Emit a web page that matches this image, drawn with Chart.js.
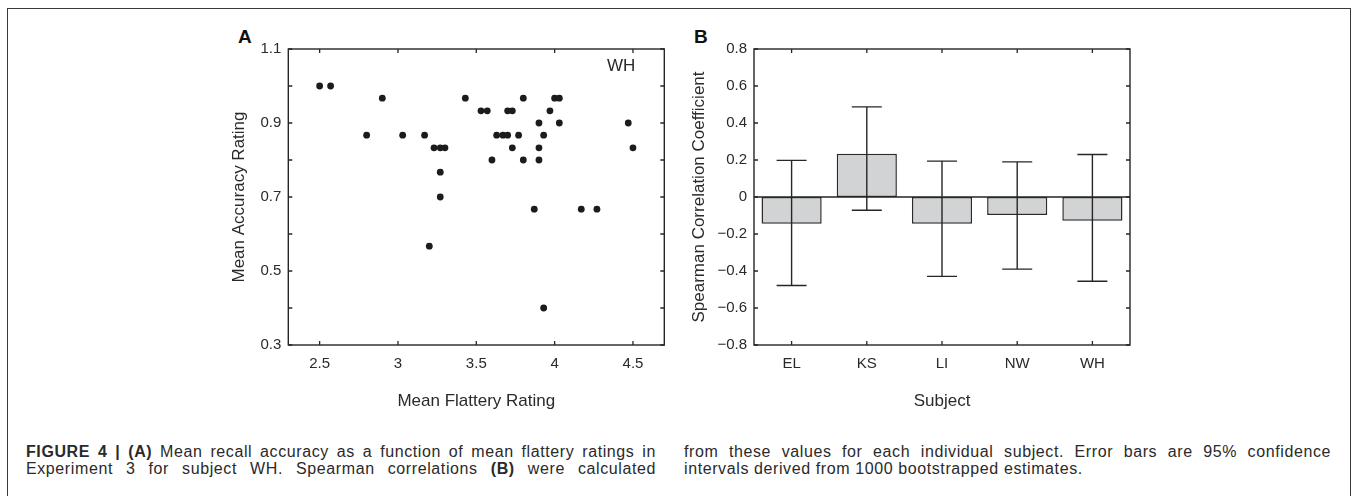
<!DOCTYPE html>
<html>
<head>
<meta charset="utf-8">
<script src="https://cdn.jsdelivr.net/npm/chart.js@4/dist/chart.umd.min.js"></script>
<style>
  html, body { margin: 0; padding: 0; background: #fff; }
  body { width: 1357px; height: 496px; position: relative; overflow: hidden; font-family: 'Liberation Sans', Arial, sans-serif; color: #2a2a2a; }
  .frame { position: absolute; left: 7px; top: 8px; width: 1342px; height: 560px; border: 1px solid #3a3a3a; }
  canvas { position: absolute; }
  .panel { position: absolute; font-weight: bold; font-size: 19px; color: #111; }
  .wh { position: absolute; font-size: 17px; color: #2a2a2a; }
  .cap { position: absolute; top: 444px; font-size: 16px; line-height: 16.7px; letter-spacing: 0.6px; text-align: justify; color: #2a2a2a; }
  .cap.left { left: 26px; width: 630px; text-align-last: justify; }
  .cap.right { left: 684px; width: 647px; }
</style>
</head>
<body>
<div class="frame"></div>
<div class="panel" style="left:238px; top:26px;">A</div>
<div class="panel" style="left:694px; top:26px;">B</div>
<canvas id="scatterA" width="490" height="400" style="left:200px; top:20px;"></canvas>
<canvas id="barsB" width="480" height="400" style="left:680px; top:20px;"></canvas>
<div class="wh" style="left:607px; top:56px;">WH</div>
<div class="cap left"><b>FIGURE 4 | (A)</b> Mean recall accuracy as a function of mean flattery ratings in Experiment 3 for subject WH. Spearman correlations <b>(B)</b> were calculated</div>
<div class="cap right">from these values for each individual subject. Error bars are 95% confidence intervals derived from 1000 bootstrapped estimates.</div>
<script>
// panel A: one point per item, subject WH
var flattery = [2.50, 2.57, 2.90, 2.80, 3.03, 3.17, 3.23, 3.27, 3.30, 3.27, 3.27, 3.20,
  3.43, 3.53, 3.57, 3.60, 3.63, 3.67, 3.70, 3.70, 3.73, 3.73, 3.77, 3.80, 3.80,
  3.90, 3.90, 3.90, 3.87, 3.93, 3.93, 3.97, 4.00, 4.03, 4.03, 4.17, 4.27, 4.47, 4.50];
var accuracy = [1.000, 1.000, 0.967, 0.867, 0.867, 0.867, 0.833, 0.833, 0.833, 0.767, 0.700, 0.567,
  0.967, 0.933, 0.933, 0.800, 0.867, 0.867, 0.867, 0.933, 0.933, 0.833, 0.867, 0.967, 0.800,
  0.900, 0.833, 0.800, 0.667, 0.867, 0.400, 0.933, 0.967, 0.967, 0.900, 0.667, 0.667, 0.900, 0.833];
var flatteryTicks = [2.5, 3, 3.5, 4, 4.5];
var accuracyTicks = [0.3, 0.4, 0.5, 0.6, 0.7, 0.8, 0.9, 1.0, 1.1];
var accuracyLabels = ['0.3', '', '0.5', '', '0.7', '', '0.9', '', '1.1'];

// panel B: spearman r per subject with 95% CI
var subjects = ['EL', 'KS', 'LI', 'NW', 'WH'];
var rho = [-0.144, 0.234, -0.144, -0.097, -0.129];
var ciLow = [-0.478, -0.072, -0.429, -0.390, -0.455];
var ciHigh = [0.198, 0.487, 0.194, 0.190, 0.230];
var rhoTicks = [-0.8, -0.6, -0.4, -0.2, 0, 0.2, 0.4, 0.6, 0.8];

Chart.defaults.font.family = "'Liberation Sans', Arial, sans-serif";
Chart.defaults.color = '#2a2a2a';

var INK = '#262626';

// matlab style box with ticks pointing inward
var boxTicks = {
  id: 'boxTicks',
  afterDraw: function (chart) {
    var ctx = chart.ctx, a = chart.chartArea;
    var xs = chart.scales.x, ys = chart.scales.y;
    ctx.save();
    ctx.strokeStyle = INK;
    ctx.lineWidth = 1.3;
    ctx.beginPath();
    xs.ticks.forEach(function (t, i) {
      var px = xs.getPixelForTick(i);
      ctx.moveTo(px, a.bottom); ctx.lineTo(px, a.bottom - 4);
      ctx.moveTo(px, a.top); ctx.lineTo(px, a.top + 4);
    });
    ys.ticks.forEach(function (t, i) {
      var py = ys.getPixelForTick(i);
      ctx.moveTo(a.left, py); ctx.lineTo(a.left + 4, py);
      ctx.moveTo(a.right, py); ctx.lineTo(a.right - 4, py);
    });
    ctx.stroke();
    ctx.lineWidth = 1.4;
    ctx.strokeRect(a.left, a.top, a.right - a.left, a.bottom - a.top);
    ctx.restore();
  }
};

var errorBars = {
  id: 'errorBars',
  afterDatasetsDraw: function (chart) {
    var ctx = chart.ctx, a = chart.chartArea;
    var xs = chart.scales.x, ys = chart.scales.y;
    ctx.save();
    ctx.strokeStyle = INK;
    ctx.lineWidth = 1.4;
    ctx.beginPath();
    var y0 = ys.getPixelForValue(0);
    ctx.moveTo(a.left, y0); ctx.lineTo(a.right, y0);
    for (var i = 0; i < subjects.length; i++) {
      var x = xs.getPixelForValue(i);
      var hi = ys.getPixelForValue(ciHigh[i]);
      var lo = ys.getPixelForValue(ciLow[i]);
      ctx.moveTo(x, hi); ctx.lineTo(x, lo);
      ctx.moveTo(x - 15, hi); ctx.lineTo(x + 15, hi);
      ctx.moveTo(x - 15, lo); ctx.lineTo(x + 15, lo);
    }
    ctx.stroke();
    ctx.restore();
  }
};

var tickFont = { size: 15 };
var titleFont = { size: 17 };

new Chart(document.getElementById('scatterA'), {
  type: 'scatter',
  data: {
    datasets: [{
      data: flattery.map(function (v, i) { return { x: v, y: accuracy[i] }; }),
      pointRadius: 3.4,
      pointBackgroundColor: '#1c1c1c',
      pointBorderWidth: 0
    }]
  },
  options: {
    responsive: false,
    animation: false,
    devicePixelRatio: 1,
    layout: { padding: { left: 0, top: 29, right: 25.7, bottom: 0 } },
    plugins: { legend: { display: false }, tooltip: { enabled: false } },
    scales: {
      x: {
        type: 'linear', min: 2.3, max: 4.7,
        grid: { display: false, drawTicks: false }, border: { display: false },
        afterBuildTicks: function (s) { s.ticks = flatteryTicks.map(function (v) { return { value: v }; }); },
        afterFit: function (s) { s.height = 75; },
        ticks: { font: tickFont, padding: 10, autoSkip: false, maxRotation: 0,
          callback: function (v) { return String(v); } },
        title: { display: true, text: 'Mean Flattery Rating', font: titleFont, padding: { top: 0, bottom: 8.8 } }
      },
      y: {
        type: 'linear', min: 0.3, max: 1.1,
        grid: { display: false, drawTicks: false }, border: { display: false },
        afterBuildTicks: function (s) { s.ticks = accuracyTicks.map(function (v) { return { value: v }; }); },
        afterFit: function (s) { s.width = 88.3; },
        ticks: { font: tickFont, padding: 7, autoSkip: false,
          callback: function (v, i) { return accuracyLabels[i]; } },
        title: { display: true, text: 'Mean Accuracy Rating', font: titleFont, padding: { top: 29.5, bottom: 0 } }
      }
    }
  },
  plugins: [boxTicks]
});

new Chart(document.getElementById('barsB'), {
  type: 'bar',
  data: {
    labels: subjects,
    datasets: [{
      data: rho,
      backgroundColor: '#d1d3d4',
      borderColor: '#2b2b2b',
      borderWidth: 1.5,
      borderSkipped: false,
      barPercentage: 0.8,
      categoryPercentage: 1
    }]
  },
  options: {
    responsive: false,
    animation: false,
    devicePixelRatio: 1,
    layout: { padding: { left: 0, top: 29, right: 30, bottom: 0 } },
    plugins: { legend: { display: false }, tooltip: { enabled: false } },
    scales: {
      x: {
        grid: { display: false, drawTicks: false }, border: { display: false },
        afterFit: function (s) { s.height = 75; },
        ticks: { font: tickFont, padding: 10, maxRotation: 0 },
        title: { display: true, text: 'Subject', font: titleFont, padding: { top: 0, bottom: 8.8 } }
      },
      y: {
        type: 'linear', min: -0.8, max: 0.8,
        grid: { display: false, drawTicks: false }, border: { display: false },
        afterBuildTicks: function (s) { s.ticks = rhoTicks.map(function (v) { return { value: v }; }); },
        afterFit: function (s) { s.width = 74; },
        ticks: { font: tickFont, padding: 7, autoSkip: false,
          callback: function (v) {
            if (Math.abs(v) < 1e-9) return '0';
            return (v < 0 ? '\u2212' : '') + Math.abs(v).toFixed(1);
          } },
        title: { display: true, text: 'Spearman Correlation Coefficient', font: titleFont, padding: { top: 9.3, bottom: 0 } }
      }
    }
  },
  plugins: [errorBars, boxTicks]
});
</script>
</body>
</html>
